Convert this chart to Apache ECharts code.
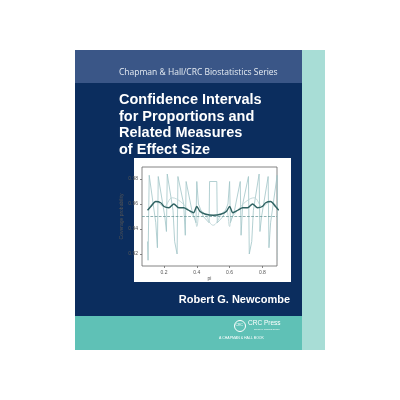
<!DOCTYPE html>
<html><head><meta charset="utf-8">
<script src="https://cdn.jsdelivr.net/npm/echarts@6/dist/echarts.min.js"></script>
<style>html,body{margin:0;padding:0;background:#fff}#c{width:400px;height:400px}</style>
</head><body><div id="c"></div>
<script>
var xTicks = [0.2, 0.4, 0.6, 0.8];
var yTicks = [0.92, 0.94, 0.96, 0.98];
var nominal = 0.95;
var exactCoverage = [[0.100,0.930],[0.103,0.915],[0.110,0.983],[0.150,0.945],[0.160,0.925],[0.165,0.982],[0.205,0.950],[0.215,0.938],[0.220,0.984],[0.255,0.955],[0.265,0.930],[0.280,0.920],[0.285,0.982],[0.320,0.960],[0.330,0.935],[0.335,0.978],[0.370,0.955],[0.395,0.945],[0.400,0.978],[0.410,0.960],[0.440,0.950],[0.475,0.945],[0.478,0.978],[0.522,0.978],[0.525,0.945],[0.560,0.950],[0.590,0.960],[0.600,0.978],[0.605,0.945],[0.630,0.955],[0.665,0.978],[0.670,0.935],[0.680,0.960],[0.715,0.982],[0.720,0.920],[0.735,0.930],[0.745,0.955],[0.780,0.984],[0.785,0.938],[0.795,0.950],[0.835,0.982],[0.840,0.925],[0.850,0.945],[0.890,0.983],[0.897,0.915],[0.900,0.930]];
var otherCoverage = [[0.10,0.955],[0.15,0.962],[0.20,0.958],[0.25,0.965],[0.30,0.962],[0.35,0.955],[0.39,0.948],[0.40,0.942],[0.42,0.955],[0.45,0.952],[0.48,0.945],[0.50,0.943],[0.52,0.945],[0.55,0.952],[0.58,0.955],[0.60,0.942],[0.61,0.948],[0.65,0.955],[0.70,0.962],[0.75,0.965],[0.80,0.958],[0.85,0.962],[0.90,0.955]];
var smoothedCoverage = [[0.10,0.955],[0.12,0.958],[0.15,0.962],[0.18,0.961],[0.20,0.958],[0.23,0.957],[0.26,0.960],[0.29,0.957],[0.32,0.957],[0.35,0.955],[0.38,0.953],[0.40,0.958],[0.42,0.954],[0.45,0.952],[0.50,0.951],[0.55,0.952],[0.58,0.954],[0.60,0.958],[0.62,0.953],[0.65,0.955],[0.68,0.957],[0.71,0.957],[0.74,0.960],[0.77,0.957],[0.80,0.958],[0.82,0.961],[0.85,0.962],[0.88,0.958],[0.90,0.955]];

var chart = echarts.init(document.getElementById('c'));
var tickFont = { fontSize: 5, color: '#555', fontFamily: 'Liberation Sans' };
chart.setOption({
  animation: false,
  backgroundColor: '#fff',
  graphic: [
    { type: 'rect', shape: { x: 75, y: 50, width: 250, height: 300 }, style: { fill: '#5fc1b6' } },
    { type: 'rect', shape: { x: 302, y: 50, width: 23, height: 300 }, style: { fill: '#a8ddd6' } },
    { type: 'rect', shape: { x: 75, y: 50, width: 227, height: 266 }, style: { fill: '#0b2d5e' } },
    { type: 'rect', shape: { x: 75, y: 50, width: 227, height: 33 }, style: { fill: '#3a5687' } },
    { type: 'text', left: 119, top: 68, style: { text: 'Chapman & Hall/CRC Biostatistics Series', fill: '#e6ecf3', fontSize: 8.5, fontFamily: 'Open Sans' } },
    { type: 'text', left: 119, top: 92, style: { text: 'Confidence Intervals\nfor Proportions and\nRelated Measures\nof Effect Size', fill: '#fff', fontSize: 14.5, fontWeight: 'bold', lineHeight: 16.5, fontFamily: 'Liberation Sans' } },
    { type: 'rect', shape: { x: 134, y: 158, width: 157, height: 124 }, style: { fill: '#fff' } },
    { type: 'text', right: 110, top: 294, style: { text: 'Robert G. Newcombe', fill: '#fff', fontSize: 11, fontWeight: 'bold', fontFamily: 'Liberation Sans' } },
    { type: 'circle', shape: { cx: 240, cy: 326, r: 5.5 }, style: { fill: 'none', stroke: '#fff', lineWidth: 1 } },
    { type: 'text', left: 235.5, top: 323.5, style: { text: 'CRC', fill: '#fff', fontSize: 3.5, fontFamily: 'Liberation Sans' } },
    { type: 'text', left: 248, top: 320, style: { text: 'CRC Press', fill: '#fff', fontSize: 6.5, fontFamily: 'Liberation Sans' } },
    { type: 'text', left: 254, top: 328, style: { text: 'Taylor & Francis Group', fill: '#fff', fontSize: 2.5, fontFamily: 'Liberation Sans' } },
    { type: 'text', left: 219, top: 336, style: { text: 'A CHAPMAN & HALL BOOK', fill: '#fff', fontSize: 3.5, fontFamily: 'Liberation Sans' } }
  ],
  grid: { left: 142, top: 167, width: 135, height: 99, show: true, borderColor: '#666', borderWidth: 0.8, z: 3 },
  xAxis: {
    type: 'value', min: 0.066, max: 0.889,
    name: 'pi', nameLocation: 'middle', nameGap: 10, nameTextStyle: tickFont,
    axisLine: { show: false }, splitLine: { show: false },
    axisLabel: Object.assign({ margin: 4, customValues: xTicks, formatter: function (v) { return v.toFixed(1); } }, tickFont),
    axisTick: { show: true, length: 2, customValues: xTicks, lineStyle: { color: '#888' } }
  },
  yAxis: {
    type: 'value', min: 0.9104, max: 0.9896,
    name: 'Coverage probability', nameLocation: 'middle', nameGap: 12, nameTextStyle: tickFont,
    axisLine: { show: false }, splitLine: { show: false },
    axisLabel: Object.assign({ margin: 4, customValues: yTicks, formatter: function (v) { return v.toFixed(2); } }, tickFont),
    axisTick: { show: true, length: 2, customValues: yTicks, lineStyle: { color: '#888' } }
  },
  series: [
    { type: 'line', data: exactCoverage, symbol: 'none', lineStyle: { color: '#9fc4c6', width: 0.8 } },
    { type: 'line', data: otherCoverage, symbol: 'none', smooth: 0.4, lineStyle: { color: '#b9d3d4', width: 0.8 } },
    { type: 'line', data: smoothedCoverage, symbol: 'none', smooth: 0.3, lineStyle: { color: '#2f6262', width: 1.4 } },
    { type: 'line', data: [[0.066, nominal], [0.889, nominal]], symbol: 'none', lineStyle: { color: '#5f8f90', width: 0.7, type: 'dashed' } }
  ]
});
</script></body></html>
